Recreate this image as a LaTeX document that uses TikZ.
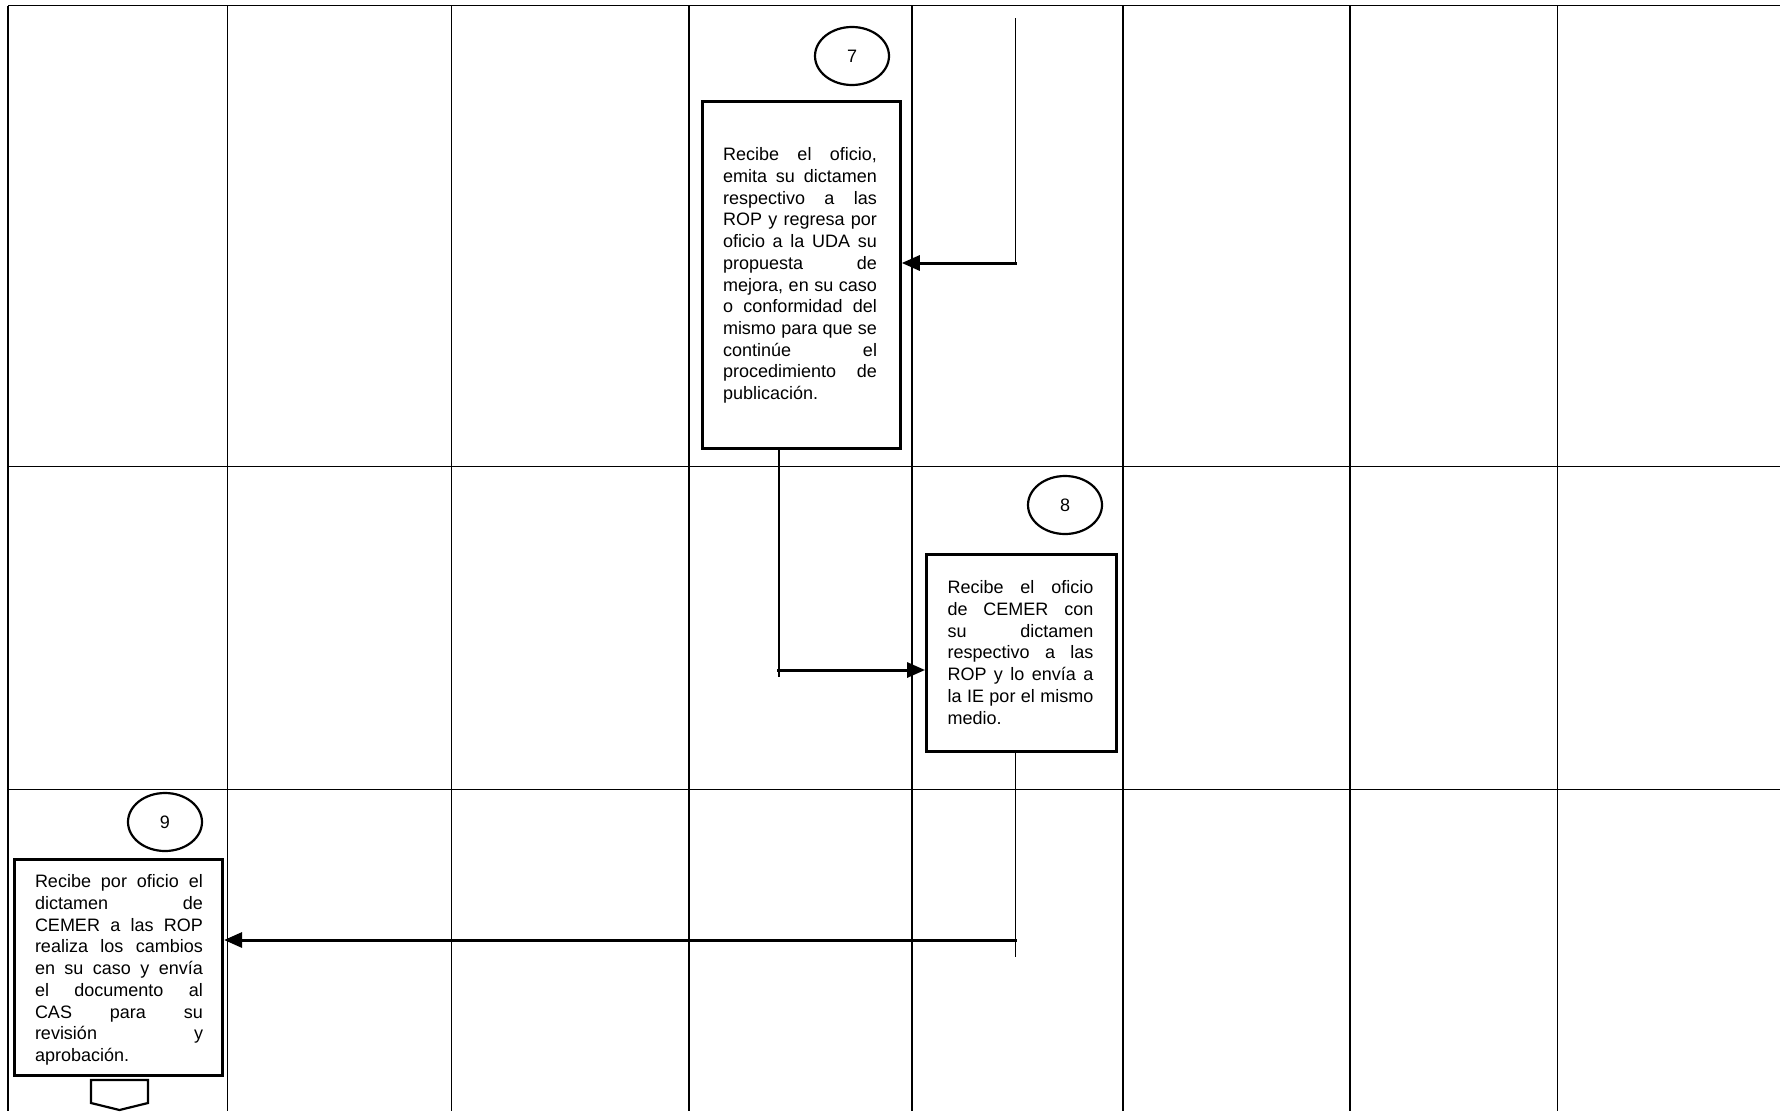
\documentclass[tikz,border=0pt]{standalone}
\usepackage{fontspec}
\setmainfont{Liberation Sans}
\usetikzlibrary{shapes.geometric,arrows.meta}
\newcommand\jline[2]{\makebox[#1][l]{\spaceskip=0.278em plus 1fill\relax #2}}
\begin{document}
\begin{tikzpicture}[x=1pt,y=-1pt,
  gridv/.style={line width=1.5pt},
  gridh/.style={line width=1pt},
  stepbox/.style={draw, line width=3pt, inner sep=0pt},
  steptext/.style={inner sep=0pt, align=left, font=\fontsize{18}{21.7}\selectfont},
  numcirc/.style={ellipse, draw, line width=2.2pt, minimum width=74pt, minimum height=58pt, inner sep=0pt, font=\fontsize{18}{21.7}\selectfont},
  flowv/.style={line width=1.2pt},
  flowarrow/.style={line width=3pt, -{Triangle[length=18pt,width=15pt]}},
  offpage/.style={line width=2.2pt, line join=miter}]
\useasboundingbox (0,0) rectangle (1780,1111);
\fill[white] (0,0) rectangle (1780,1111);
% grid
\foreach \x in {8,227.5,451.5,689,912,1123,1350,1557.5}
  \draw[gridv] (\x,5.7) -- (\x,1111);
\foreach \y in {5.7,466.5,789}
  \draw[gridh] (8,\y) -- (1780,\y);
% step 7
\node[numcirc] (c7) at (852,56) {7};
\node[stepbox, minimum width=197.5pt, minimum height=347.5pt] (b7) at (801.5,275) {};
\node[steptext, text width=154pt] (t7) at (800,275.5) {%
\jline{154pt}{Recibe el oficio,}\\
\jline{154pt}{emita su dictamen}\\
\jline{154pt}{respectivo a las}\\
\jline{154pt}{ROP y regresa por}\\
\jline{154pt}{oficio a la UDA su}\\
\jline{154pt}{propuesta de}\\
\jline{154pt}{mejora, en su caso}\\
\jline{154pt}{o conformidad del}\\
\jline{154pt}{mismo para que se}\\
\jline{154pt}{continúe el}\\
\jline{154pt}{procedimiento de}\\
publicación.};
% step 8
\node[numcirc] (c8) at (1065,505) {8};
\node[stepbox, minimum width=189.5pt, minimum height=196.5pt] (b8) at (1021.3,652.8) {};
\node[steptext, text width=146pt] (t8) at (1020.5,652.5) {%
\jline{146pt}{Recibe el oficio}\\
\jline{146pt}{de CEMER con}\\
\jline{146pt}{su dictamen}\\
\jline{146pt}{respectivo a las}\\
\jline{146pt}{ROP y lo envía a}\\
\jline{146pt}{la IE por el mismo}\\
medio.};
% step 9
\node[numcirc] (c9) at (165,822) {9};
\node[stepbox, minimum width=208.5pt, minimum height=216pt] (b9) at (118.3,967.5) {};
\node[steptext, text width=168pt] (t9) at (119,970) {%
\jline{168pt}{Recibe por oficio el}\\
\jline{168pt}{dictamen de}\\
\jline{168pt}{CEMER a las ROP}\\
\jline{168pt}{realiza los cambios}\\
\jline{168pt}{en su caso y envía}\\
\jline{168pt}{el documento al}\\
\jline{168pt}{CAS para su}\\
\jline{168pt}{revisión y}\\
aprobación.};
% connectors
\coordinate (in7top) at (1015.5,18.3);
\coordinate (in7turn) at (1015.5,263);
\draw[flowv] (in7top) -- ([yshift=-1pt]in7turn);
\draw[flowarrow] ([xshift=1pt]in7turn) -- (in7turn -| b7.east);
\coordinate (out7turn) at (779,670);
\draw[flowv] (b7.south -| out7turn) -- ([yshift=-7pt]out7turn);
\draw[flowarrow] ([xshift=-2pt]out7turn) -- (out7turn -| b8.west);
\coordinate (out8turn) at (1015.7,940);
\draw[flowv] (b8.south -| out8turn) -- ([yshift=-17pt]out8turn);
\draw[flowarrow] ([xshift=1pt]out8turn) -- (out8turn -| b9.east);
% off-page connector
\draw[offpage] (91,1080) -- (148,1080) -- (148,1103) -- (119.5,1110) -- (91,1103) -- cycle;
\end{tikzpicture}
\end{document}
